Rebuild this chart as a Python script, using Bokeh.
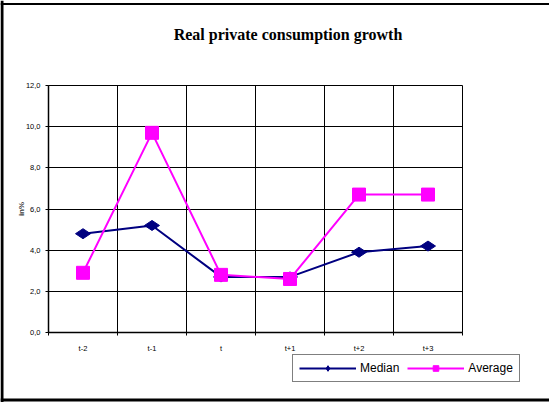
from bokeh.plotting import figure
from bokeh.models import Range1d, FixedTicker, Legend, LegendItem, Label, Span
from bokeh.embed import file_html
from bokeh.resources import INLINE
import math

categories = ["t-2", "t-1", "t", "t+1", "t+2", "t+3"]
median = [4.8, 5.2, 2.7, 2.7, 3.9, 4.2]
average = [2.9, 9.7, 2.8, 2.6, 6.7, 6.7]
y_ticks = [0, 2, 4, 6, 8, 10, 12]
y_tick_labels = ["0,0", "2,0", "4,0", "6,0", "8,0", "10,0", "12,0"]
chart_title = "Real private consumption growth"
y_label = "in%"
series_names = ["Median", "Average"]
series_colors = ["#000080", "#FF00FF"]

W, H = 553, 402
xs = [i + 0.5 for i in range(len(categories))]
bounds = list(range(len(categories) + 1))

# ---------------- main chart ----------------
p = figure(width=W, height=H, x_range=Range1d(0, len(categories)), y_range=Range1d(0, 12),
           output_backend="svg", toolbar_location=None,
           min_border_left=48, min_border_right=W - 462, min_border_top=85, min_border_bottom=70)
p.styles = {"position": "absolute", "left": "0px", "top": "0px",
            "clip-path": "inset(0px 4px 0px 0px)"}
p.background_fill_color = "white"
p.border_fill_color = "white"
p.outline_line_color = "black"
p.outline_line_width = 1

p.xaxis.ticker = FixedTicker(ticks=xs, minor_ticks=bounds)
p.xaxis.major_label_overrides = {x: c for x, c in zip(xs, categories)}
p.xaxis.major_tick_out = 0
p.xaxis.major_tick_in = 0
p.xaxis.minor_tick_out = 3
p.xaxis.minor_tick_in = 0
p.xaxis.minor_tick_line_color = "black"
p.xaxis.axis_line_color = "black"
p.xaxis.axis_line_width = 1.5
p.xaxis.major_label_standoff = 8
p.xaxis.major_label_text_font = "Liberation Sans"
p.xaxis.major_label_text_font_size = "7.5px"
p.xaxis.major_label_text_color = "black"
p.xgrid.ticker = FixedTicker(ticks=bounds)
p.xgrid.grid_line_color = "black"
p.xgrid.grid_line_width = 1

p.yaxis.ticker = FixedTicker(ticks=y_ticks)
p.yaxis.major_label_overrides = {t: l for t, l in zip(y_ticks, y_tick_labels)}
p.yaxis.major_tick_out = 3
p.yaxis.major_tick_in = 0
p.yaxis.minor_tick_out = 0
p.yaxis.minor_tick_in = 0
p.yaxis.major_tick_line_color = "black"
p.yaxis.axis_line_color = "black"
p.yaxis.axis_line_width = 1.5
p.yaxis.major_label_standoff = 5
p.yaxis.major_label_text_font = "Liberation Sans"
p.yaxis.major_label_text_font_size = "7.5px"
p.yaxis.major_label_text_color = "black"
p.yaxis.axis_label = y_label
p.yaxis.axis_label_text_font = "Liberation Sans"
p.yaxis.axis_label_text_font_style = "bold"
p.yaxis.axis_label_text_font_size = "8px"
p.yaxis.axis_label_standoff = -3
p.ygrid.grid_line_color = "black"
p.ygrid.grid_line_width = 1

p.line(xs, median, line_color=series_colors[0], line_width=2)
p.scatter(xs, median, marker="diamond", size=15, angle=math.pi / 2,
          fill_color=series_colors[0], line_color=series_colors[0])
p.line(xs, average, line_color=series_colors[1], line_width=2)
p.scatter(xs, average, marker="square", size=13,
          fill_color=series_colors[1], line_color=series_colors[1])

# ---------------- overlay: title, legend, outer frame ----------------
o = figure(width=W, height=H, x_range=Range1d(0, W), y_range=Range1d(H, 0),
           output_backend="svg", toolbar_location=None,
           min_border=0, min_border_left=0, min_border_right=0, min_border_top=0, min_border_bottom=0)
o.styles = {"position": "absolute", "left": "0px", "top": "0px", "pointer-events": "none",
            "clip-path": "inset(0px 4px 0px 0px)"}
o.axis.visible = False
o.grid.visible = False
o.background_fill_alpha = 0
o.border_fill_alpha = 0
o.outline_line_color = None
# legend swatch renderers: same series on an off-screen range, so only their legend swatches show
o.extra_x_ranges = {"swatch": Range1d(1000, 1001)}
o.extra_y_ranges = {"swatch": Range1d(1000, 1001)}
ol1 = o.line(xs, median, line_color=series_colors[0], line_width=2,
             x_range_name="swatch", y_range_name="swatch")
om1 = o.scatter(xs, median, marker="diamond", size=10, angle=math.pi / 2,
                fill_color=series_colors[0], line_color=series_colors[0],
                x_range_name="swatch", y_range_name="swatch")
ol2 = o.line(xs, average, line_color=series_colors[1], line_width=2,
             x_range_name="swatch", y_range_name="swatch")
om2 = o.scatter(xs, average, marker="square", size=10,
                fill_color=series_colors[1], line_color=series_colors[1],
                x_range_name="swatch", y_range_name="swatch")

legend = Legend(items=[LegendItem(label=series_names[0], renderers=[ol1, om1]),
                       LegendItem(label=series_names[1], renderers=[ol2, om2])],
                orientation="horizontal", location=(292, H - 382))
legend.border_line_color = "black"
legend.border_line_width = 1.5
legend.background_fill_color = "white"
legend.background_fill_alpha = 1
legend.glyph_width = 57
legend.glyph_height = 14
legend.label_height = 14
legend.label_standoff = 4
legend.spacing = 8
legend.padding = 6
legend.margin = 0
legend.label_text_font = "Liberation Sans"
legend.label_text_font_size = "12px"
legend.label_text_color = "black"
o.add_layout(legend, "center")

o.add_layout(Label(x=287.5, y=34, text=chart_title, text_align="center", text_baseline="middle",
                   text_font="Liberation Serif", text_font_style="bold", text_font_size="16px",
                   text_color="black"))

# outer frame of the chart object (left, top, bottom)
o.add_layout(Span(location=1.5, dimension="height", line_color="black", line_width=3))
o.add_layout(Span(location=3.5, dimension="width", line_color="black", line_width=2))
o.add_layout(Span(location=399.5, dimension="width", line_color="black", line_width=3))

open("out.html", "w").write(file_html([p, o], INLINE))
